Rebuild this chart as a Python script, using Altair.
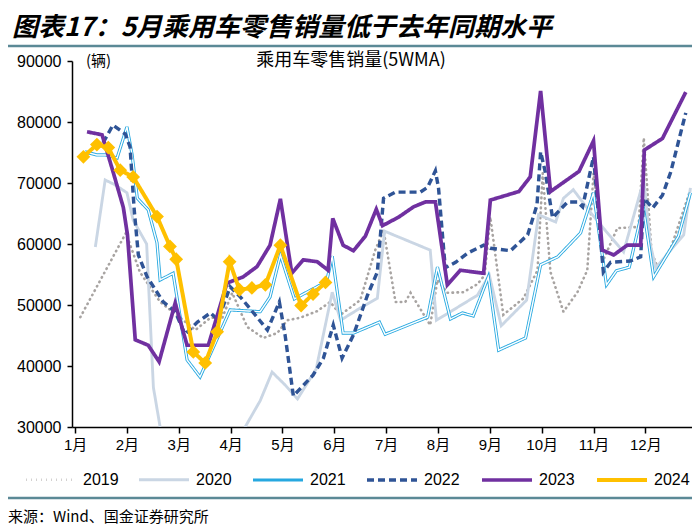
import altair as alt
import pandas as pd

years = ["2019", "2020", "2021", "2022", "2023", "2024"]
colors = ["#a8a4a2", "#cad6e4", "#26a8e0", "#2f5496", "#7030a0", "#ffc000"]
dashes = [[0.5, 4.5], [1, 0], [1, 0], [7, 4], [1, 0], [1, 0]]
widths = [2.6, 4, 4.2, 3.2, 3.2, 4.5]

title_text = "图表17：5月乘用车零售销量低于去年同期水平"
subtitle_text = "乘用车零售销量(5WMA)"
unit_text = "(辆)"
source_text = "来源：Wind、国金证券研究所"
month_ticks = [1, 2, 3, 4, 5, 6, 7, 8, 9, 10, 11, 12]
y_ticks = [30000, 40000, 50000, 60000, 70000, 80000, 90000]

m2019 = [1.10, 1.98, 2.25, 2.64, 3.03, 3.32, 3.61, 3.84, 4.03, 4.32, 4.63, 4.90, 5.09, 5.34, 5.67,
         5.92, 6.12, 6.50, 6.79, 6.95, 7.18, 7.37, 7.47, 7.85, 7.99, 8.18, 8.49, 8.76, 8.90, 9.01,
         9.26, 9.65, 9.92, 10.02, 10.17, 10.42, 10.69, 10.88, 11.0, 11.19, 11.46, 11.87, 11.97,
         12.12, 12.24, 12.49, 12.87]
v2019 = [48000, 61800, 55400, 50500, 47900, 45900, 47900, 47900, 52000, 46400, 44600, 45400, 47500,
         47900, 49000, 50500, 48400, 50800, 59000, 62300, 50500, 50500, 52000, 46700, 54100, 52000,
         52100, 53400, 54900, 64400, 48400, 51100, 55700, 71600, 55400, 48900, 52100, 55700, 71600,
         57400, 62600, 62800, 77400, 58700, 56100, 59300, 68900]

m2020 = [1.39, 1.58, 1.77, 2.00, 2.12, 2.38, 2.51, 2.64, 2.85, 4.00, 4.28, 4.57, 4.80, 5.05, 5.29,
         5.65, 5.96, 6.12, 6.50, 6.83, 6.97, 7.85, 7.97, 8.24, 8.76, 8.99, 9.22, 9.71, 9.94, 10.27,
         10.42, 10.61, 10.94, 11.19, 11.58, 11.97, 12.10, 12.20, 12.74, 12.87]
v2020 = [59500, 70500, 69700, 68400, 63900, 60000, 36500, 30000, 22000, 22000, 30000, 34300, 39000,
         36900, 34600, 39500, 52100, 47500, 49500, 51100, 62100, 59000, 47500, 48900, 51600, 54900,
         46600, 50800, 64800, 63600, 67500, 68900, 65200, 62600, 58700, 70500, 59800, 56100, 61500,
         69200]

m2021 = [1.19, 1.42, 1.58, 1.81, 2.00, 2.10, 2.20, 2.41, 2.58, 2.64, 2.89, 3.16, 3.41, 3.99, 4.57,
         4.76, 4.96, 5.23, 5.58, 5.85, 5.96, 6.17, 6.37, 6.87, 6.98, 7.80, 7.99, 8.24, 8.47, 8.68,
         8.97, 9.17, 9.69, 9.98, 10.31, 10.75, 11.0, 11.25, 11.44, 11.69, 11.96, 12.16, 12.64, 12.87]
v2021 = [75100, 74600, 74600, 74100, 79200, 74600, 67500, 65600, 60200, 54100, 55200, 41000, 38200,
         49200, 48900, 51300, 58200, 51000, 52600, 53800, 58000, 45400, 45400, 47200, 45200, 48000,
         56200, 47700, 48700, 48200, 54600, 42600, 44600, 56600, 57900, 61800, 68400, 53300, 55600,
         56200, 66100, 54600, 61300, 68400]

m2022 = [1.54, 1.73, 1.97, 2.06, 2.14, 2.22, 2.39, 2.70, 2.93, 3.12, 3.36, 3.61, 3.76, 3.99, 4.19,
         4.51, 4.71, 4.94, 5.05, 5.21, 5.59, 5.79, 5.98, 6.15, 6.37, 6.64, 6.83, 6.95, 7.18, 7.66,
         7.80, 7.95, 8.01, 8.14, 8.34, 8.57, 8.88, 9.01, 9.40, 9.73, 9.91, 9.98, 10.07, 10.21, 10.50,
         10.69, 10.79, 11.0, 11.08, 11.19, 11.33, 11.71, 11.91, 11.97, 12.14, 12.33, 12.49, 12.78]
v2022 = [76600, 79500, 78000, 75900, 65600, 58200, 54600, 50500, 48900, 45200, 47200, 48700, 47500,
         53000, 51300, 48000, 45900, 50500, 45100, 35100, 38500, 41300, 46700, 41300, 45100, 51600,
         55400, 67500, 68500, 68500, 69300, 72000, 69200, 56100, 57000, 58500, 59800, 59300, 58900,
         61500, 66400, 75100, 71800, 64300, 66900, 66900, 66100, 74300, 66400, 55400, 57000, 57200,
         57900, 67500, 65900, 68000, 71800, 81500]

m2023 = [1.23, 1.52, 1.73, 1.93, 2.01, 2.16, 2.41, 2.62, 2.93, 3.16, 3.57, 3.93, 4.24, 4.51, 4.76,
         4.96, 5.18, 5.40, 5.67, 5.88, 5.97, 6.17, 6.37, 6.60, 6.81, 6.93, 7.24, 7.53, 7.76, 7.95,
         8.18, 8.43, 8.88, 9.01, 9.56, 9.78, 9.98, 10.17, 10.72, 11.0, 11.17, 11.39, 11.65, 11.91,
         11.98, 12.33, 12.78]
v2023 = [78400, 77900, 71900, 66000, 61500, 44300, 43400, 40700, 50300, 43400, 43400, 53600, 54600,
         56300, 59800, 67400, 55200, 57400, 57100, 55700, 64200, 59800, 58900, 61300, 65700, 63000,
         64400, 66100, 66900, 66900, 53300, 55700, 55200, 67200, 68600, 71000, 85100, 68600, 71900,
         76900, 59000, 58200, 59800, 59800, 75400, 77300, 84900]

m2024 = [1.16, 1.42, 1.64, 1.87, 2.12, 2.58, 2.83, 2.95, 3.28, 3.51, 3.74, 3.98, 4.17, 4.41, 4.67,
         4.96, 5.36, 5.59, 5.83]
v2024 = [74300, 76300, 75800, 72100, 71000, 64500, 59600, 57500, 42300, 40500, 45600, 57100, 52500,
         52800, 53300, 59800, 49900, 51800, 53700]

all_m = [m2019, m2020, m2021, m2022, m2023, m2024]
all_v = [v2019, v2020, v2021, v2022, v2023, v2024]
df = pd.concat(
    [pd.DataFrame({"year": yr, "m": mm, "v": vv}) for yr, mm, vv in zip(years, all_m, all_v)],
    ignore_index=True,
)

FONT = "Liberation Sans, Noto Sans CJK SC"
CJK = "Noto Sans CJK SC"

x_enc = alt.X(
    "m:Q",
    scale=alt.Scale(domain=[0.94, 12.9], nice=False, zero=False),
    axis=alt.Axis(values=month_ticks, labelExpr="datum.value + '月'", title=None, grid=False,
                  tickSize=6, labelPadding=4, labelFontSize=15, labelFont=FONT,
                  domainColor="black", tickColor="black", domainWidth=1.5, tickWidth=1.5,
                  labelColor="black"),
)
y_enc = alt.Y(
    "v:Q",
    scale=alt.Scale(domain=[30000, 90000], nice=False, zero=False),
    axis=alt.Axis(values=y_ticks, format="d", title=None, grid=False, tickSize=5,
                  labelPadding=6, labelFontSize=16, labelFont=FONT, domainColor="black",
                  tickColor="black", domainWidth=1.5, tickWidth=1.5, labelColor="black"),
)
color_enc = alt.Color("year:N", scale=alt.Scale(domain=years, range=colors), title=None)
dash_enc = alt.StrokeDash("year:N", scale=alt.Scale(domain=years, range=dashes), title=None)
width_enc = alt.StrokeWidth("year:N", scale=alt.Scale(domain=years, range=widths), title=None)

base = alt.Chart(df).encode(x=x_enc, y=y_enc, color=color_enc, strokeDash=dash_enc,
                            strokeWidth=width_enc)


def year_line(yr, cap="butt"):
    return base.transform_filter(alt.datum.year == yr).mark_line(clip=True, strokeCap=cap)


white_2021 = alt.Chart(df).transform_filter(alt.datum.year == "2021").mark_line(
    clip=True, color="white", strokeWidth=1.4
).encode(x=x_enc, y=y_enc)

points_2024 = alt.Chart(df).transform_filter(alt.datum.year == "2024").mark_point(
    shape="diamond", filled=True, size=190, opacity=1, color="#ffc000"
).encode(x=x_enc, y=y_enc)

one = pd.DataFrame({"a": [0]})


def label(txt, x, y, size, font=CJK, style="normal", weight="normal", align="left"):
    return alt.Chart(one).mark_text(
        text=txt, align=align, baseline="middle", fontSize=size, font=font,
        fontStyle=style, fontWeight=weight, color="black"
    ).encode(x=alt.value(x), y=alt.value(y))


title_mark = label(title_text, -60, -33, 26, style="italic", weight="bold")
subtitle_mark = label(subtitle_text, 279, 0, 18, align="center")
unit_mark = label(unit_text, 14, 0, 15)
source_mark = label(source_text, -64, 456, 15)

rule_top = alt.Chart(one).mark_rule(color="#5b8996", strokeWidth=2.5).encode(
    x=alt.value(-72), x2=alt.value(628), y=alt.value(-15))
rule_bot = alt.Chart(one).mark_rule(color="#5b8996", strokeWidth=2.5).encode(
    x=alt.value(-72), x2=alt.value(628), y=alt.value(437))

chart = alt.layer(
    year_line("2019", "round"),
    year_line("2020"),
    year_line("2021"),
    white_2021,
    year_line("2022"),
    year_line("2023"),
    year_line("2024"),
    points_2024,
    title_mark, subtitle_mark, unit_mark, source_mark, rule_top, rule_bot,
).properties(
    width=620, height=366,
    autosize=alt.AutoSizeParams(type="none"),
    padding={"left": 64, "right": 0, "top": 53, "bottom": 112},
).configure_view(stroke=None).configure_legend(
    orient="none", legendX=-48, legendY=392, direction="horizontal", columns=6,
    symbolType="stroke", symbolSize=2500, labelFontSize=16, labelFont=FONT,
    labelColor="black", labelOffset=5, columnPadding=14, title=None,
)

chart.save("out.html", embed_options={"renderer": "svg", "actions": False})
